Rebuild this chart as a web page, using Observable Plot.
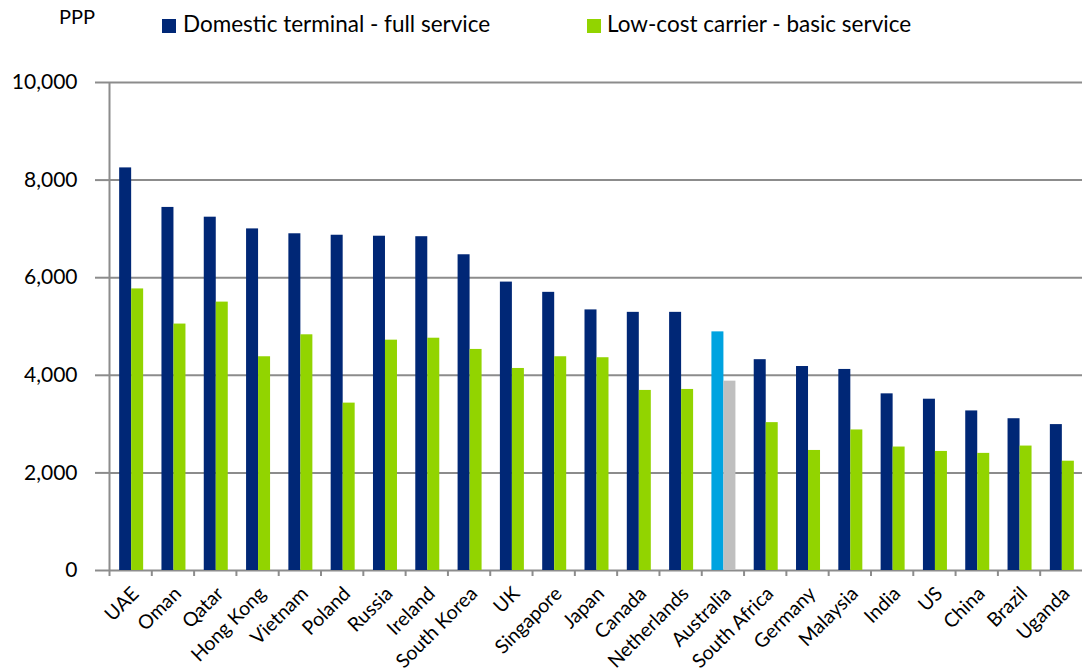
<!DOCTYPE html>
<html><head><meta charset="utf-8">
<script src="https://cdn.jsdelivr.net/npm/d3@7"></script>
<script src="https://cdn.jsdelivr.net/npm/@observablehq/plot@0.6"></script>
<style>
body{margin:0;background:#fff;font-family:Lato,sans-serif;}
#wrap{position:relative;width:1082px;height:672px;overflow:hidden;}
#head{position:relative;height:60px;}
.lab{position:absolute;font-size:20px;color:#000;white-space:nowrap;line-height:1;}
.lab.big{font-size:22.5px;}
.sw{position:absolute;width:14px;height:14px;}
</style></head><body>
<div id="wrap"><div id="head"></div><div id="chart"></div></div>
<script>
const countries = ["UAE","Oman","Qatar","Hong Kong","Vietnam","Poland","Russia","Ireland","South Korea","UK","Singapore","Japan","Canada","Netherlands","Australia","South Africa","Germany","Malaysia","India","US","China","Brazil","Uganda"];
const domestic = [8250,7440,7240,7000,6900,6870,6850,6840,6470,5910,5700,5340,5290,5290,4890,4320,4180,4120,3620,3510,3270,3110,2990];
const lowCost  = [5770,5050,5500,4380,4830,3430,4720,4760,4530,4140,4380,4360,3690,3710,3880,3030,2460,2880,2530,2440,2400,2550,2240];
const seriesNames = ["Domestic terminal - full service","Low-cost carrier - basic service"];
const yTicks = [0,2000,4000,6000,8000,10000];
const unitLabel = "PPP";
const highlight = "Australia";
const colors = {domestic:"#002776", lowCost:"#92D400", hlDomestic:"#00A3E0", hlLowCost:"#BFBFBF", grid:"#8c8c8c"};

const data = countries.map((c,i)=>({country:c, domestic:domestic[i], lowCost:lowCost[i]}));

// header: unit label + legend
const head = document.getElementById("head");
function addText(txt,left,top,cls){const d=document.createElement("div");d.className="lab"+(cls?" "+cls:"");d.textContent=txt;d.style.left=left+"px";d.style.top=top+"px";head.appendChild(d);}
function addSw(color,left,top){const d=document.createElement("div");d.className="sw";d.style.background=color;d.style.left=left+"px";d.style.top=top+"px";head.appendChild(d);}
addText(unitLabel,59,6);
addSw(colors.domestic,162,19); addText(seriesNames[0],183,13,"big");
addSw(colors.lowCost,587,19); addText(seriesNames[1],607,13,"big");

const W=1082, mL=109, mR=0;
const step=(W-mL-mR)/countries.length;
const barW=12;
const inset=(step-barW)/2;

const chart = Plot.plot({
  width:W, height:612, marginLeft:mL, marginRight:mR, marginTop:22, marginBottom:102,
  style:{fontFamily:"Lato, sans-serif", fontSize:"21px", color:"#000", background:"#fff", overflow:"visible"},
  x:{domain:countries, padding:0, round:false, axis:null},
  y:{domain:[0,10000], axis:null},
  color:{type:"identity"},
  marks:[
    Plot.ruleY(yTicks,{stroke:colors.grid, strokeWidth:2}),
    Plot.axisY({ticks:yTicks, tickSize:14, tickPadding:18, stroke:colors.grid, strokeWidth:2, tickFormat:d3.format(","), fontSize:21, fill:"#000", label:null}),
    Plot.ruleX([countries[0]],{x:d=>d, dx:-step/2, y1:0, y2:10000, stroke:colors.grid, strokeWidth:2}),
    Plot.axisX({tickSize:6, tickFormat:()=>"", dx:-step/2, stroke:colors.grid, strokeWidth:2, label:null}),
    Plot.barY(data,{x:"country", y:"domestic", fill:d=>d.country===highlight?colors.hlDomestic:colors.domestic, insetLeft:inset, insetRight:inset, dx:-barW/2+1}),
    Plot.barY(data,{x:"country", y:"lowCost", fill:d=>d.country===highlight?colors.hlLowCost:colors.lowCost, insetLeft:inset, insetRight:inset, dx:barW/2+1}),
    Plot.text(countries,{x:d=>d, frameAnchor:"bottom", rotate:-45, textAnchor:"end", lineAnchor:"middle", dx:5, dy:20, fontSize:19.5, fill:"#000"})
  ]
});
document.getElementById("chart").appendChild(chart);
</script>
</body></html>
